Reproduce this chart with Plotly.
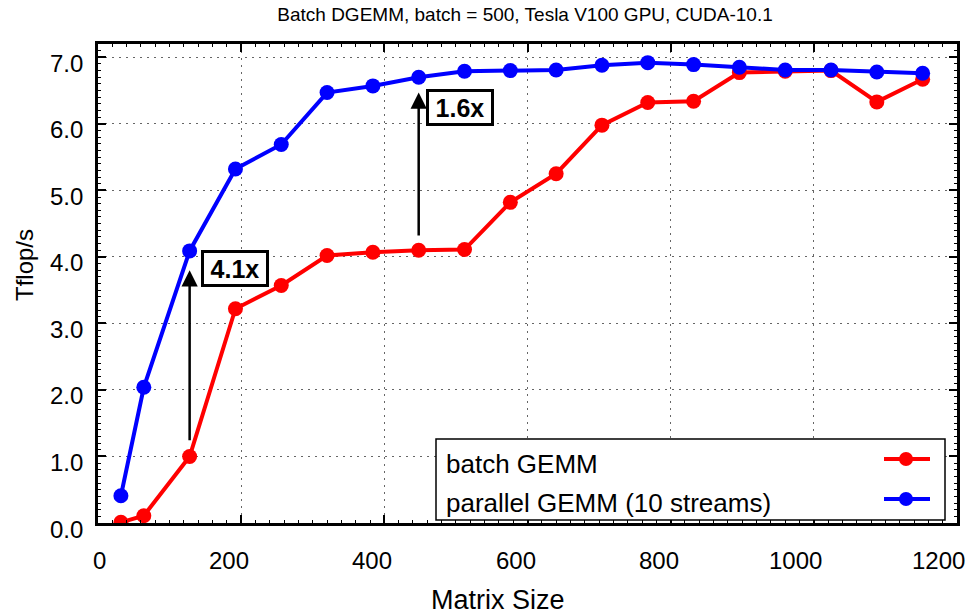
import plotly.graph_objects as go

# ---- data ----
sizes = [32, 64, 128, 192, 256, 320, 384, 448, 512, 576, 640, 704, 768, 832, 896, 960, 1024, 1088, 1152]
batch_gemm = [0.01, 0.11, 1.00, 3.22, 3.57, 4.02, 4.07, 4.10, 4.11, 4.82, 5.25, 5.98, 6.32, 6.34, 6.77, 6.79, 6.80, 6.33, 6.67]
parallel_gemm = [0.41, 2.04, 4.09, 5.32, 5.69, 6.47, 6.57, 6.70, 6.79, 6.80, 6.81, 6.88, 6.92, 6.89, 6.85, 6.81, 6.81, 6.78, 6.76]
series_names = ["batch GEMM", "parallel GEMM (10 streams)"]
series_colors = ["#ff0000", "#0000ff"]

x_ticks = [0, 200, 400, 600, 800, 1000, 1200]
y_ticks = [0, 1, 2, 3, 4, 5, 6, 7]
y_tick_labels = ["0.0", "1.0", "2.0", "3.0", "4.0", "5.0", "6.0", "7.0"]

speedup_text = ["4.1x", "1.6x"]
speedup_arrow_x = [128, 448]
speedup_arrow_tail = [1.22, 4.30]
speedup_arrow_head = [3.80, 6.47]
speedup_box_x = [191, 505]
speedup_box_y = [3.83, 6.25]

title = "Batch DGEMM, batch = 500, Tesla V100 GPU, CUDA-10.1"
x_title = "Matrix Size"
y_title = "Tflop/s"

# ---- geometry ----
W, H = 971, 614
L, R, T, B = 98, 957, 44, 523
FONT = "Liberation Sans, Arial, Helvetica, sans-serif"


def px(xp):
    return (xp - L) / (R - L)


def py(yp):
    return (B - yp) / (B - T)


fig = go.Figure()
fig.add_trace(go.Scatter(x=sizes, y=batch_gemm, mode="lines+markers", name=series_names[0],
                         line=dict(color=series_colors[0], width=4),
                         marker=dict(color=series_colors[0], size=15), showlegend=False))
fig.add_trace(go.Scatter(x=sizes, y=parallel_gemm, mode="lines+markers", name=series_names[1],
                         line=dict(color=series_colors[1], width=4),
                         marker=dict(color=series_colors[1], size=15), showlegend=False))

axis_common = dict(
    showline=True, linecolor="black", linewidth=2.5, mirror="allticks",
    ticks="inside", ticklen=8, tickwidth=2, tickcolor="black",
    showticklabels=False, zeroline=False,
    showgrid=True, gridcolor="#666666", gridwidth=1.3, griddash="2px,5px",
)

fig.update_xaxes(range=[0, 1200], tickmode="array", tickvals=x_ticks,
                 minor=dict(dtick=20, ticks="inside", ticklen=3, tickwidth=1, tickcolor="black", showgrid=False),
                 **axis_common)
fig.update_yaxes(range=[0, 7.2], tickmode="array", tickvals=y_ticks,
                 minor=dict(dtick=0.1, ticks="inside", ticklen=3, tickwidth=1, tickcolor="black", showgrid=False),
                 **axis_common)

annotations = []
# x tick labels (right-aligned near the tick, as in the source)
for v in x_ticks:
    annotations.append(dict(x=v, xref="x", y=0, yref="paper", text=str(v), showarrow=False,
                            xanchor="right", yanchor="middle", xshift=10, yshift=-(560 - B),
                            font=dict(family=FONT, size=24, color="black")))
# y tick labels
for v, lab in zip(y_ticks, y_tick_labels):
    annotations.append(dict(x=0, xref="paper", y=v, yref="y", text=lab, showarrow=False,
                            xanchor="right", yanchor="middle", xshift=-13, yshift=-6,
                            font=dict(family=FONT, size=24, color="black")))
# axis titles
annotations.append(dict(x=px(498), xref="paper", y=py(600), yref="paper", text=x_title, showarrow=False,
                        xanchor="center", yanchor="middle",
                        font=dict(family=FONT, size=27, color="black")))
annotations.append(dict(x=px(24), xref="paper", y=py(265), yref="paper", text=y_title, showarrow=False,
                        xanchor="center", yanchor="middle", textangle=-90,
                        font=dict(family=FONT, size=24, color="black")))
# speedup arrows and boxes
for xa, yt, yh in zip(speedup_arrow_x, speedup_arrow_tail, speedup_arrow_head):
    annotations.append(dict(x=xa, y=yh, xref="x", yref="y", ax=xa, ay=yt, axref="x", ayref="y",
                            text="", showarrow=True, arrowhead=2, arrowsize=1.3, arrowwidth=2.5,
                            arrowcolor="black", standoff=0, startstandoff=0))
for t, bx, by in zip(speedup_text, speedup_box_x, speedup_box_y):
    annotations.append(dict(x=bx, y=by, xref="x", yref="y", text="<b>" + t + "</b>", showarrow=False,
                            xanchor="center", yanchor="middle", bgcolor="white",
                            bordercolor="black", borderwidth=3, borderpad=1, width=60, height=29,
                            font=dict(family=FONT, size=25, color="black")))

# custom legend (text left, symbol right)
legend_text_y = [464, 503]
legend_line_y = [459, 499]
for name, ty in zip(series_names, legend_text_y):
    annotations.append(dict(x=px(444), y=py(ty), xref="paper", yref="paper", text=name, showarrow=False,
                            xanchor="left", yanchor="middle",
                            font=dict(family=FONT, size=26, color="black")))

shapes = [dict(type="rect", xref="paper", yref="paper", x0=px(436), x1=px(945), y0=py(520), y1=py(439),
               line=dict(color="black", width=1.5), fillcolor="white", layer="above")]
for col, ly in zip(series_colors, legend_line_y):
    shapes.append(dict(type="line", xref="paper", yref="paper", x0=px(884), x1=px(930), y0=py(ly), y1=py(ly),
                       line=dict(color=col, width=4), layer="above"))
    shapes.append(dict(type="circle", xref="paper", yref="paper", xsizemode="pixel", ysizemode="pixel",
                       xanchor=px(906), yanchor=py(ly), x0=-7, x1=7, y0=-7, y1=7,
                       line=dict(color=col, width=0), fillcolor=col, layer="above"))

fig.update_layout(
    width=W, height=H,
    margin=dict(l=L, r=W - R, t=T, b=H - B, pad=0),
    paper_bgcolor="white", plot_bgcolor="white",
    title=dict(text=title, x=px(525), xref="paper", xanchor="center", y=1 - 14 / H, yref="container",
               yanchor="middle", font=dict(family=FONT, size=19, color="black")),
    annotations=annotations, shapes=shapes, showlegend=False,
)

fig.write_html("out.html", config={"displayModeBar": False},
               post_script="document.body.style.margin='0px';document.body.style.overflow='hidden';")
